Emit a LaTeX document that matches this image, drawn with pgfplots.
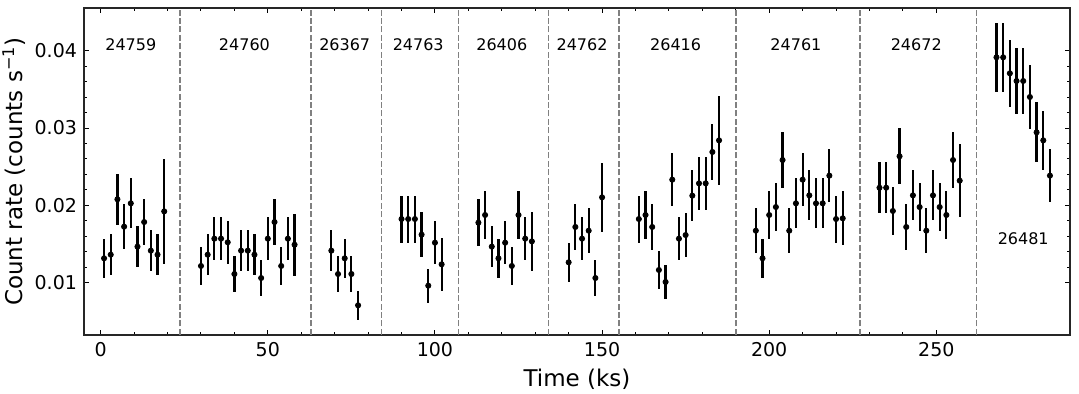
\documentclass[border=0pt]{standalone}
\usepackage{pgfplots}
\pgfplotsset{compat=1.18}
\usepackage{pgfplotstable}
\usepackage{fontspec}
\setmainfont{DejaVu Sans}

\pgfplotstableread{
x y e
1 0.01315 0.00254
3 0.01362 0.00263
5 0.02078 0.00328
7 0.01724 0.00291
9 0.02026 0.00323
11 0.01466 0.00269
13 0.01784 0.00297
15 0.01414 0.00269
17 0.01362 0.00265
19 0.01922 0.00679
30 0.01216 0.00246
32 0.01362 0.00263
34 0.01569 0.00282
36 0.01569 0.00282
38 0.01522 0.00280
40 0.01112 0.00237
42 0.01414 0.00269
44 0.01414 0.00269
46 0.01362 0.00263
48 0.01060 0.00231
50 0.01569 0.00282
52 0.01784 0.00297
54 0.01216 0.00246
56 0.01569 0.00282
58 0.01491 0.00400
69 0.01414 0.00269
71 0.01112 0.00237
73 0.01315 0.00256
75 0.01112 0.00237
77 0.00707 0.00190
90 0.01823 0.00304
92 0.01823 0.00304
94 0.01823 0.00304
96 0.01621 0.00287
98 0.00961 0.00220
100 0.01517 0.00278
102 0.01237 0.00343
113 0.01776 0.00302
115 0.01875 0.00308
117 0.01466 0.00269
119 0.01315 0.00256
121 0.01517 0.00278
123 0.01216 0.00248
125 0.01875 0.00308
127 0.01569 0.00282
129 0.01534 0.00386
140 0.01263 0.00250
142 0.01720 0.00295
144 0.01569 0.00282
146 0.01672 0.00289
148 0.01060 0.00231
150 0.02103 0.00448
161 0.01823 0.00304
163 0.01875 0.00308
165 0.01720 0.00295
167 0.01164 0.00241
169 0.01009 0.00222
171 0.02332 0.00345
173 0.01569 0.00282
175 0.01616 0.00289
177 0.02125 0.00328
179 0.02284 0.00338
181 0.02284 0.00338
183 0.02690 0.00364
185 0.02840 0.00580
196 0.01672 0.00289
198 0.01315 0.00256
200 0.01875 0.00308
202 0.01978 0.00315
204 0.02586 0.00360
206 0.01672 0.00289
208 0.02026 0.00323
210 0.02332 0.00345
212 0.02129 0.00325
214 0.02026 0.00323
216 0.02026 0.00323
218 0.02384 0.00347
220 0.01823 0.00304
222 0.01832 0.00347
233 0.02228 0.00332
235 0.02228 0.00332
237 0.01927 0.00308
239 0.02634 0.00364
241 0.01720 0.00295
243 0.02129 0.00325
245 0.01978 0.00315
247 0.01672 0.00289
249 0.02129 0.00325
251 0.01978 0.00315
253 0.01875 0.00308
255 0.02586 0.00360
257 0.02319 0.00472
268 0.03914 0.00444
270 0.03914 0.00444
272 0.03707 0.00431
274 0.03608 0.00425
276 0.03608 0.00425
278 0.03401 0.00412
280 0.02944 0.00388
282 0.02840 0.00381
284 0.02384 0.00347
}\lcdata

\pgfplotstableread{
x lab y
9 24759 0.0408
43 24760 0.0408
73 26367 0.0408
95 24763 0.0408
120 26406 0.0408
144 24762 0.0408
172 26416 0.0408
208 24761 0.0408
244 24672 0.0408
276 26481 0.0157
}\obsids

\begin{document}
\begin{tikzpicture}
\begin{axis}[
  at={(0,0)}, anchor=south west,
  scale only axis, width=493pt, height=163.5pt,
  xmin=-5, xmax=290, ymin=0.003233, ymax=0.04552,
  xtick={0,50,100,150,200,250},
  ytick={0.01,0.02,0.03,0.04},
  minor x tick num=4, minor y tick num=4,
  scaled y ticks=false,
  yticklabel style={/pgf/number format/.cd, fixed, fixed zerofill, precision=2},
  /pgf/number format/assume math mode=true,
  tick align=inside,
  major tick length=2.6pt, minor tick length=1.5pt,
  every tick/.style={black, line width=0.5pt},
  axis line style={line width=0.75pt, black!85},
  tick label style={font=\fontsize{9.5}{11}\selectfont},
  label style={font=\fontsize{11.5}{13}\selectfont},
  xlabel={Time (ks)},
  ylabel={Count rate (counts s\textsuperscript{−1})},
  xlabel style={at={(axis description cs:0.5,0)}, anchor=north, yshift=-13.5pt},
  ylabel style={at={(axis description cs:0,0.5)}, anchor=south, rotate=0, xshift=0pt, yshift=25.5pt},
  clip=true,
]
\pgfplotsinvokeforeach{23.8,62.9,84.0,107.0,134.0,155.1,190.1,227.1,262.0}{
  \addplot[color=black!50, line width=0.85pt, dash pattern=on 3pt off 1.2pt, forget plot] coordinates {(#1,0) (#1,0.05)};
}
\addplot[only marks, mark=*, mark size=1.3pt, black,
  error bars/.cd, y dir=both, y explicit, error mark=none,
  error bar style={line width=1.1pt, black}]
  table[x=x, y=y, y error=e] {\lcdata};
\addplot[only marks, mark=none, nodes near coords={\pgfplotspointmeta},
  point meta=explicit symbolic,
  every node near coord/.style={anchor=center, font=\fontsize{8}{10}\selectfont, black}]
  table[x=x, y=y, meta=lab] {\obsids};
\end{axis}
\pgfresetboundingbox
\path[use as bounding box] (-42pt,-29.5pt) rectangle (497.5pt,167.5pt);
\end{tikzpicture}
\end{document}
